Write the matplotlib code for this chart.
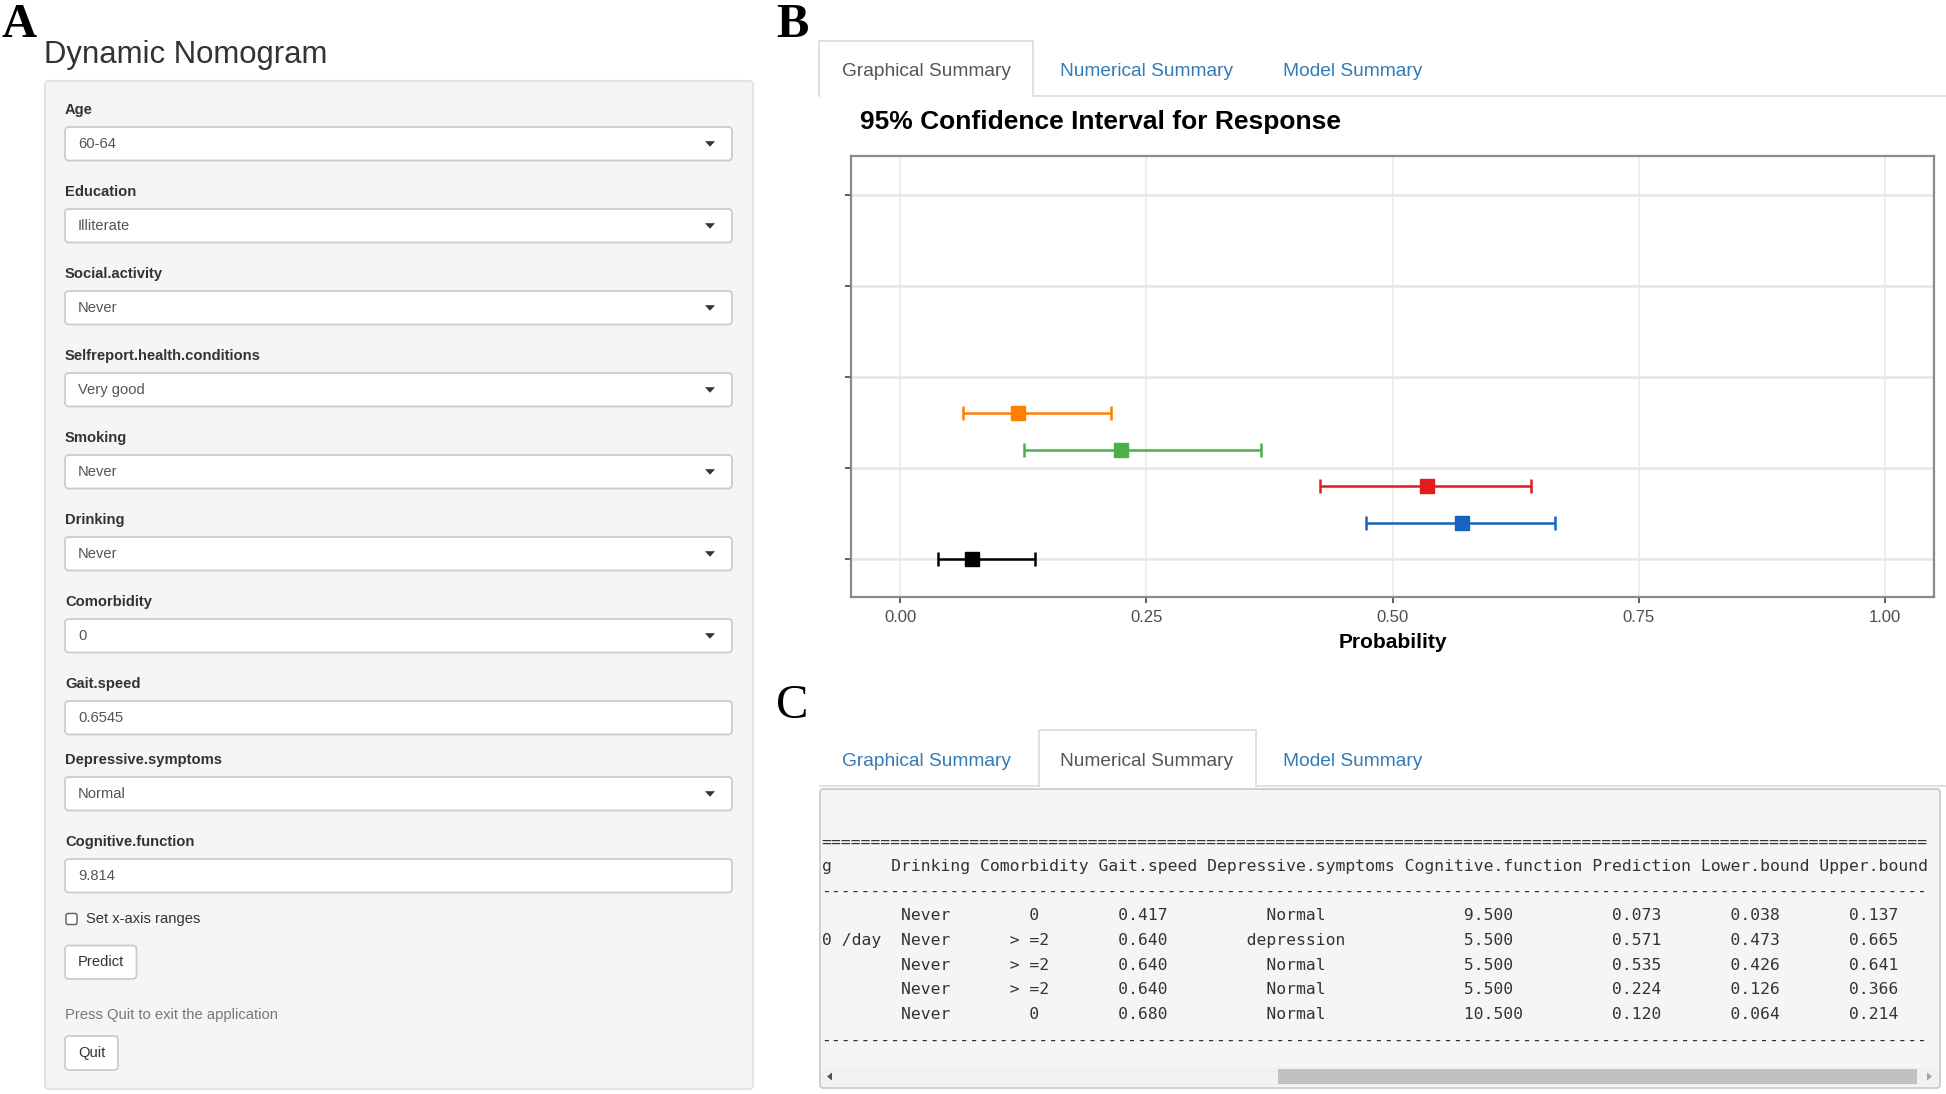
import numpy as np
import matplotlib
matplotlib.use("Agg")
import matplotlib.pyplot as plt
from matplotlib.patches import FancyBboxPatch, Rectangle, Polygon

# ---------------- data ----------------
input_labels = ["Age", "Education", "Social.activity", "Selfreport.health.conditions",
                "Smoking", "Drinking", "Comorbidity", "Gait.speed",
                "Depressive.symptoms", "Cognitive.function"]
input_values = ["60-64", "Illiterate", "Never", "Very good", "Never", "Never", "0",
                "0.6545", "Normal", "9.814"]
input_is_select = [True, True, True, True, True, True, True, False, True, False]

tab_names = ["Graphical Summary", "Numerical Summary", "Model Summary"]

x_ticks = [0.00, 0.25, 0.50, 0.75, 1.00]
x_tick_labels = ["0.00", "0.25", "0.50", "0.75", "1.00"]
y_ticks = [1, 2, 3, 4, 5]

table_columns = ["Drinking", "Comorbidity", "Gait.speed", "Depressive.symptoms",
                 "Cognitive.function", "Prediction", "Lower.bound", "Upper.bound"]
prefix_header = "g"
prefix_values = ["", "0 /day", "", "", ""]
drinking = ["Never", "Never", "Never", "Never", "Never"]
comorbidity = ["0", "> =2", "> =2", "> =2", "0"]
gait_speed = [0.417, 0.640, 0.640, 0.640, 0.680]
depressive = ["Normal", "depression", "Normal", "Normal", "Normal"]
cognitive = [9.5, 5.5, 5.5, 5.5, 10.5]
prediction = [0.073, 0.571, 0.535, 0.224, 0.120]
lower_bound = [0.038, 0.473, 0.426, 0.126, 0.064]
upper_bound = [0.137, 0.665, 0.641, 0.366, 0.214]
ci_colors = ["#000000", "#1565C0", "#E41A1C", "#4DAF4A", "#FF7F00"]

# ---------------- figure ----------------
W, H = 1946, 1094
plt.rcParams['font.family'] = ['Liberation Sans', 'DejaVu Sans']
fig = plt.figure(figsize=(W / 100, H / 100), dpi=100)
fig.patch.set_facecolor("white")
bg = fig.add_axes([0, 0, 1, 1])
bg.set_xlim(0, W)
bg.set_ylim(H, 0)
bg.axis("off")

def rbox(x0, y0, x1, y1, fc, ec, r=4, lw=1.2, z=1):
    p = FancyBboxPatch((x0, y0), x1 - x0, y1 - y0,
                       boxstyle=f"round,pad=0,rounding_size={r}",
                       fc=fc, ec=ec, lw=lw, zorder=z)
    bg.add_patch(p)

serif = ['Liberation Serif', 'DejaVu Serif']

# ---------------- Panel A ----------------
bg.text(2, 3, "A", fontsize=35, fontweight="bold", family=serif, va="top", ha="left")
bg.text(44, 55, "Dynamic Nomogram", fontsize=22.4, color="#333333", va="center", ha="left")
rbox(45, 81, 753, 1089, "#F5F5F5", "#E3E3E3", r=4, lw=1.5)

y = 110.0
for lab, val, sel in zip(input_labels, input_values, input_is_select):
    bg.text(65, y, lab, fontsize=10.6, fontweight="bold", color="#333333", va="center")
    top = y + 17
    rbox(65, top, 732, top + 33.5, "white", "#CCCCCC", r=4, lw=1.3, z=2)
    bg.text(78, top + 17, val, fontsize=10.6, color="#555555", va="center", zorder=3)
    if sel:
        cy = top + 16.7
        bg.add_patch(Polygon([(705, cy - 2.5), (715, cy - 2.5), (710, cy + 3)],
                             closed=True, fc="#333333", ec="none", zorder=3))
    y += 82 if sel else 76

# checkbox
cb_y = y + 1
rbox(66, cb_y - 5.5, 77, cb_y + 5.5, "white", "#666666", r=2, lw=1.1, z=2)
bg.text(86, cb_y, "Set x-axis ranges", fontsize=10.6, color="#333333", va="center")
# Predict button
rbox(65, 945.5, 136.5, 979, "white", "#CCCCCC", r=4, lw=1.3, z=2)
bg.text(100.7, 962.5, "Predict", fontsize=10.6, color="#333333", va="center", ha="center", zorder=3)
bg.text(65, 1015, "Press Quit to exit the application", fontsize=10.6, color="#777777", va="center")
rbox(65, 1036, 118, 1070, "white", "#CCCCCC", r=4, lw=1.3, z=2)
bg.text(91.5, 1053.5, "Quit", fontsize=10.6, color="#333333", va="center", ha="center", zorder=3)

# ---------------- Tabs helper ----------------
tab_centers = [926, 1147, 1353]

def tabs(active, x0, x1, ytop, ybase, ty):
    bg.add_patch(Rectangle((x0, ytop), x1 - x0, ybase - ytop, fc="white", ec="none", zorder=2))
    bg.plot([x0, x0, x1, x1], [ybase, ytop, ytop, ybase], color="#DDDDDD", lw=1.3, zorder=3)
    if x0 > 821:
        bg.plot([820, x0], [ybase, ybase], color="#DDDDDD", lw=1.3, zorder=3)
    bg.plot([x1, W], [ybase, ybase], color="#DDDDDD", lw=1.3, zorder=3)
    for i, name in enumerate(tab_names):
        bg.text(tab_centers[i], ty, name, fontsize=13.8,
                color="#555555" if i == active else "#337AB7",
                ha="center", va="center", zorder=4)

# ---------------- Panel B ----------------
bg.text(776, 3, "B", fontsize=35, fontweight="bold", family=serif, va="top", ha="left")
tabs(0, 819, 1032.5, 41, 95.6, 71)
bg.text(860, 121.5, "95% Confidence Interval for Response", fontsize=19,
        fontweight="bold", color="black", va="center", ha="left")

ax = fig.add_axes([851 / W, 1 - 597 / H, (1934 - 851) / W, (597 - 156) / H])
ax.set_facecolor("white")
ax.set_xlim(-0.05, 1.05)
ax.set_ylim(0.586, 5.424)
ax.set_xticks(x_ticks)
ax.set_xticklabels(x_tick_labels)
ax.set_yticks(y_ticks)
ax.set_yticklabels([])
ax.tick_params(axis="both", direction="out", length=4, width=1.1, color="#333333",
               labelcolor="#4D4D4D", labelsize=12, pad=5)
for v in x_ticks:
    ax.axvline(v, color="#EBEBEB", lw=1.2, zorder=0)
for v in y_ticks:
    ax.axhline(v, color="#E6E6E6", lw=1.8, zorder=0)
for s in ax.spines.values():
    s.set_color("#8A8A8A")
    s.set_linewidth(1.6)

ypos = 1 + 0.4 * np.arange(len(prediction))
pred = np.array(prediction)
lo = np.array(lower_bound)
hi = np.array(upper_bound)
for i in range(len(pred)):
    ax.errorbar(pred[i], ypos[i], xerr=[[pred[i] - lo[i]], [hi[i] - pred[i]]],
                fmt="s", color=ci_colors[i], ms=9.5, capsize=5, elinewidth=1.8,
                capthick=1.8, zorder=3)
ax.set_xlabel("Probability", fontsize=15, fontweight="bold", labelpad=6)

# ---------------- Panel C ----------------
bg.text(776, 684, "C", fontsize=35, family=serif, va="top", ha="left")
tabs(1, 1038.7, 1256, 729.7, 785.5, 761.5)
rbox(820, 789, 1940, 1088, "#F5F5F5", "#CCCCCC", r=3, lw=1.3, z=1)

mono = ['DejaVu Sans Mono']
ncols = 112

def rcenter(s, w):
    pad = max(w - len(s), 0)
    left = pad // 2
    return " " * left + s + " " * (pad - left)

def fmtrow(prefix, vals):
    parts = [rcenter(v, len(c)) for v, c in zip(vals, table_columns)]
    return prefix.ljust(6) + " " + " ".join(parts)

lines = []
lines.append(("=" * ncols, 842))
lines.append((prefix_header.ljust(6) + " " + " ".join(table_columns), 866))
lines.append(("-" * ncols, 891.5))
row_y = [915.5, 940.3, 965.1, 989.9, 1014.7]
for i in range(len(prediction)):
    vals = [drinking[i], comorbidity[i], f"{gait_speed[i]:.3f}", depressive[i],
            f"{cognitive[i]:.3f}", f"{prediction[i]:.3f}", f"{lower_bound[i]:.3f}",
            f"{upper_bound[i]:.3f}"]
    lines.append((fmtrow(prefix_values[i], vals), row_y[i]))
lines.append(("-" * ncols, 1040.5))
for txt, yy in lines:
    bg.text(821.5, yy, txt, fontsize=11.8, family=mono, color="#333333",
            va="center", ha="left", zorder=3)

# scrollbar
bg.add_patch(Rectangle((821, 1067), 1118, 19, fc="#F1F1F1", ec="none", zorder=2))
bg.add_patch(Rectangle((1278, 1069), 639, 15, fc="#C1C1C1", ec="none", zorder=3))
bg.add_patch(Polygon([(827, 1076.5), (832, 1072.5), (832, 1080.5)], closed=True,
                     fc="#505050", ec="none", zorder=3))
bg.add_patch(Polygon([(1932, 1076.5), (1927, 1072.5), (1927, 1080.5)], closed=True,
                     fc="#A3A3A3", ec="none", zorder=3))

fig.savefig("out.png", dpi=100, facecolor="white")
